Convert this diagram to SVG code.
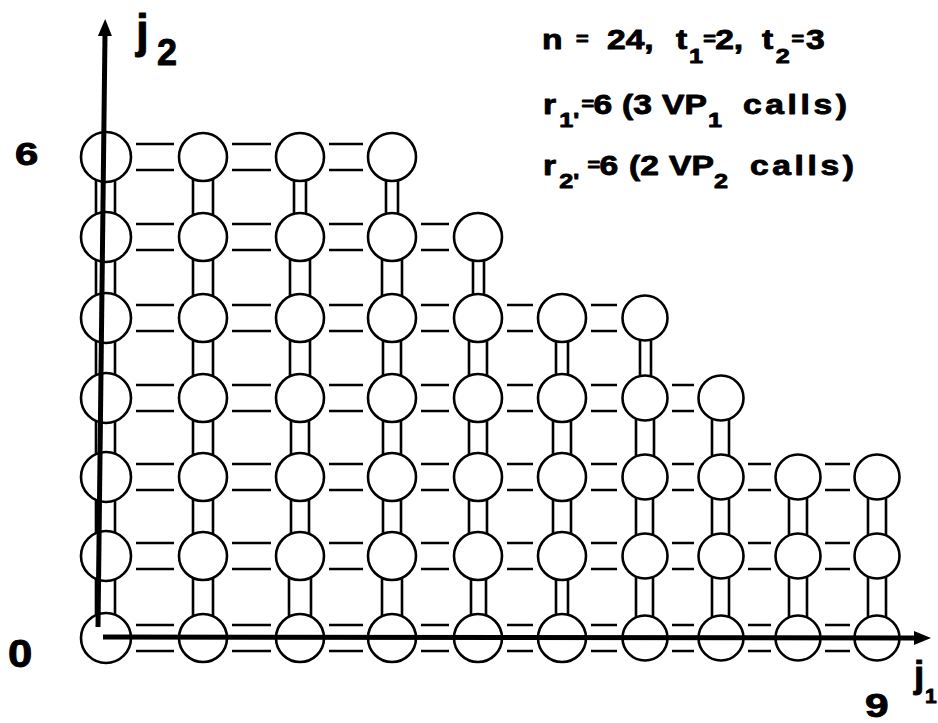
<svg xmlns="http://www.w3.org/2000/svg" width="938" height="723" viewBox="0 0 938 723">
<style>
.n{fill:#fff;stroke:#000;stroke-width:2.6}
.c{fill:none;stroke:#000;stroke-width:2.6}
.ax{fill:none;stroke:#000;stroke-width:5}
.t{font-family:"Liberation Sans",Arial,sans-serif;font-weight:bold;fill:#000;stroke:#000;stroke-width:0.9;stroke-linejoin:round}
.sub{font-size:21px}
.eq{font-size:18px}
</style>
<defs>
<marker id="ah" markerUnits="userSpaceOnUse" markerWidth="18" markerHeight="14" refX="2" refY="7" orient="auto">
<path d="M0,0 L17,7 L0,14 Z" fill="#000"/>
</marker>
</defs>
<rect width="938" height="723" fill="#fff"/>

<g id="connectors">
<path class="c" d="M136 144H174M136 170H174"/>
<path class="c" d="M232 144H271M232 170H271"/>
<path class="c" d="M329 144H363M329 170H363"/>
<path class="c" d="M136 224H174M136 250H174"/>
<path class="c" d="M232 224H271M232 250H271"/>
<path class="c" d="M329 224H363M329 250H363"/>
<path class="c" d="M421 224H449M421 250H449"/>
<path class="c" d="M136 305H174M136 331H174"/>
<path class="c" d="M232 305H271M232 331H271"/>
<path class="c" d="M329 305H363M329 331H363"/>
<path class="c" d="M421 305H449M421 331H449"/>
<path class="c" d="M507 305H533M507 331H533"/>
<path class="c" d="M591 305H617M591 331H617"/>
<path class="c" d="M136 385H174M136 411H174"/>
<path class="c" d="M232 385H271M232 411H271"/>
<path class="c" d="M329 385H363M329 411H363"/>
<path class="c" d="M421 385H449M421 411H449"/>
<path class="c" d="M507 385H533M507 411H533"/>
<path class="c" d="M591 385H617M591 411H617"/>
<path class="c" d="M672 385H694M672 411H694"/>
<path class="c" d="M136 464H174M136 490H174"/>
<path class="c" d="M232 464H271M232 490H271"/>
<path class="c" d="M329 464H363M329 490H363"/>
<path class="c" d="M421 464H449M421 490H449"/>
<path class="c" d="M507 464H533M507 490H533"/>
<path class="c" d="M591 464H617M591 490H617"/>
<path class="c" d="M672 464H694M672 490H694"/>
<path class="c" d="M748 464H771M748 490H771"/>
<path class="c" d="M825 464H850M825 490H850"/>
<path class="c" d="M136 543H174M136 569H174"/>
<path class="c" d="M232 543H271M232 569H271"/>
<path class="c" d="M329 543H363M329 569H363"/>
<path class="c" d="M421 543H449M421 569H449"/>
<path class="c" d="M507 543H533M507 569H533"/>
<path class="c" d="M591 543H617M591 569H617"/>
<path class="c" d="M672 543H694M672 569H694"/>
<path class="c" d="M748 543H771M748 569H771"/>
<path class="c" d="M825 543H850M825 569H850"/>
<path class="c" d="M136 625H174M136 651H174"/>
<path class="c" d="M232 625H271M232 651H271"/>
<path class="c" d="M329 625H363M329 651H363"/>
<path class="c" d="M421 625H449M421 651H449"/>
<path class="c" d="M507 625H533M507 651H533"/>
<path class="c" d="M591 625H617M591 651H617"/>
<path class="c" d="M672 625H694M672 651H694"/>
<path class="c" d="M748 625H771M748 651H771"/>
<path class="c" d="M825 625H850M825 651H850"/>
<path class="c" d="M96 179V215M115 179V215"/>
<path class="c" d="M96 259V296M115 259V296"/>
<path class="c" d="M96 340V376M115 340V376"/>
<path class="c" d="M96 420V455M115 420V455"/>
<path class="c" d="M96 499V534M115 499V534"/>
<path class="c" d="M96 578V616M115 578V616"/>
<path class="c" d="M193 178V216M213 178V216"/>
<path class="c" d="M193 258V297M213 258V297"/>
<path class="c" d="M193 339V377M213 339V377"/>
<path class="c" d="M193 419V456M213 419V456"/>
<path class="c" d="M193 498V535M213 498V535"/>
<path class="c" d="M193 577V617M213 577V617"/>
<path class="c" d="M294 179V215M306 179V215"/>
<path class="c" d="M290 258V297M310 258V297"/>
<path class="c" d="M290 339V377M310 339V377"/>
<path class="c" d="M291 419V456M309 419V456"/>
<path class="c" d="M291 498V535M309 498V535"/>
<path class="c" d="M289 577V617M311 577V617"/>
<path class="c" d="M386 179V215M398 179V215"/>
<path class="c" d="M382 258V297M402 258V297"/>
<path class="c" d="M383 339V377M401 339V377"/>
<path class="c" d="M383 419V456M401 419V456"/>
<path class="c" d="M383 498V535M401 498V535"/>
<path class="c" d="M382 577V617M402 577V617"/>
<path class="c" d="M473 259V296M484 259V296"/>
<path class="c" d="M469 339V377M487 339V377"/>
<path class="c" d="M469 419V456M487 419V456"/>
<path class="c" d="M469 498V535M487 498V535"/>
<path class="c" d="M471 577V617M486 577V617"/>
<path class="c" d="M556 340V376M568 340V376"/>
<path class="c" d="M553 419V456M571 419V456"/>
<path class="c" d="M553 498V535M571 498V535"/>
<path class="c" d="M556 578V616M568 578V616"/>
<path class="c" d="M640 339V377M651 339V377"/>
<path class="c" d="M636 418V457M654 418V457"/>
<path class="c" d="M636 497V536M653 497V536"/>
<path class="c" d="M636 576V618M653 576V618"/>
<path class="c" d="M712 418V457M729 418V457"/>
<path class="c" d="M712 497V536M729 497V536"/>
<path class="c" d="M712 576V618M729 576V618"/>
<path class="c" d="M789 497V536M807 497V536"/>
<path class="c" d="M789 576V618M807 576V618"/>
<path class="c" d="M868 497V536M886 497V536"/>
<path class="c" d="M868 576V618M886 576V618"/>
</g>

<g id="nodes">
<g id="n0-6"><circle class="n" cx="106" cy="157" r="25"/></g>
<g id="n1-6"><circle class="n" cx="203" cy="157" r="24"/></g>
<g id="n2-6"><circle class="n" cx="300" cy="157" r="24"/></g>
<g id="n3-6"><circle class="n" cx="392" cy="157" r="24"/></g>
<g id="n0-5"><circle class="n" cx="106" cy="237" r="25"/></g>
<g id="n1-5"><circle class="n" cx="203" cy="237" r="24"/></g>
<g id="n2-5"><circle class="n" cx="300" cy="237" r="24"/></g>
<g id="n3-5"><circle class="n" cx="392" cy="237" r="24"/></g>
<g id="n4-5"><circle class="n" cx="478" cy="237" r="24"/></g>
<g id="n0-4"><circle class="n" cx="106" cy="318" r="25"/></g>
<g id="n1-4"><circle class="n" cx="203" cy="318" r="24"/></g>
<g id="n2-4"><circle class="n" cx="300" cy="318" r="24"/></g>
<g id="n3-4"><circle class="n" cx="392" cy="318" r="24"/></g>
<g id="n4-4"><circle class="n" cx="478" cy="318" r="24"/></g>
<g id="n5-4"><circle class="n" cx="562" cy="318" r="24"/></g>
<g id="n6-4"><circle class="n" cx="645" cy="318" r="22.5"/></g>
<g id="n0-3"><circle class="n" cx="106" cy="398" r="25"/></g>
<g id="n1-3"><circle class="n" cx="203" cy="398" r="24"/></g>
<g id="n2-3"><circle class="n" cx="300" cy="398" r="24"/></g>
<g id="n3-3"><circle class="n" cx="392" cy="398" r="24"/></g>
<g id="n4-3"><circle class="n" cx="478" cy="398" r="24"/></g>
<g id="n5-3"><circle class="n" cx="562" cy="398" r="24"/></g>
<g id="n6-3"><circle class="n" cx="645" cy="398" r="22.5"/></g>
<g id="n7-3"><circle class="n" cx="721" cy="398" r="22.5"/></g>
<g id="n0-2"><circle class="n" cx="106" cy="477" r="25"/></g>
<g id="n1-2"><circle class="n" cx="203" cy="477" r="24"/></g>
<g id="n2-2"><circle class="n" cx="300" cy="477" r="24"/></g>
<g id="n3-2"><circle class="n" cx="392" cy="477" r="24"/></g>
<g id="n4-2"><circle class="n" cx="478" cy="477" r="24"/></g>
<g id="n5-2"><circle class="n" cx="562" cy="477" r="24"/></g>
<g id="n6-2"><circle class="n" cx="645" cy="477" r="22.5"/></g>
<g id="n7-2"><circle class="n" cx="721" cy="477" r="22.5"/></g>
<g id="n8-2"><circle class="n" cx="798" cy="477" r="22.5"/></g>
<g id="n9-2"><circle class="n" cx="877" cy="477" r="22.5"/></g>
<g id="n0-1"><circle class="n" cx="106" cy="556" r="25"/></g>
<g id="n1-1"><circle class="n" cx="203" cy="556" r="24"/></g>
<g id="n2-1"><circle class="n" cx="300" cy="556" r="24"/></g>
<g id="n3-1"><circle class="n" cx="392" cy="556" r="24"/></g>
<g id="n4-1"><circle class="n" cx="478" cy="556" r="24"/></g>
<g id="n5-1"><circle class="n" cx="562" cy="556" r="24"/></g>
<g id="n6-1"><circle class="n" cx="645" cy="556" r="22.5"/></g>
<g id="n7-1"><circle class="n" cx="721" cy="556" r="22.5"/></g>
<g id="n8-1"><circle class="n" cx="798" cy="556" r="22.5"/></g>
<g id="n9-1"><circle class="n" cx="877" cy="556" r="22.5"/></g>
<g id="n0-0"><circle class="n" cx="106" cy="638" r="25"/></g>
<g id="n1-0"><circle class="n" cx="203" cy="638" r="24"/></g>
<g id="n2-0"><circle class="n" cx="300" cy="638" r="24"/></g>
<g id="n3-0"><circle class="n" cx="392" cy="638" r="24"/></g>
<g id="n4-0"><circle class="n" cx="478" cy="638" r="24"/></g>
<g id="n5-0"><circle class="n" cx="562" cy="638" r="24"/></g>
<g id="n6-0"><circle class="n" cx="645" cy="638" r="22.5"/></g>
<g id="n7-0"><circle class="n" cx="721" cy="638" r="22.5"/></g>
<g id="n8-0"><circle class="n" cx="798" cy="638" r="22.5"/></g>
<g id="n9-0"><circle class="n" cx="877" cy="638" r="22.5"/></g>
</g>

<g id="axes">
<path class="ax" d="M98 627L105 34" marker-end="url(#ah)"/>
<path class="ax" d="M103 637L916 638" marker-end="url(#ah)"/>
<text class="t" x="136" y="47" font-size="46">j<tspan x="157" y="65" font-size="36">2</tspan></text>
<text class="t" x="914" y="687" font-size="37">j<tspan x="925" y="703" font-size="21">1</tspan></text>
<text class="t" font-size="31" transform="translate(15,165) scale(1.35,1)">6</text>
<text class="t" font-size="38" transform="translate(8,667) scale(1.15,1)">0</text>
<text class="t" font-size="34" transform="translate(865,717) scale(1.25,1)">9</text>
</g>

<g id="legend" transform="scale(1.2,1)">
<text class="t" font-size="28" y="49"><tspan x="451.7">n </tspan><tspan class="eq" x="480" y="45">= </tspan><tspan x="505.8" y="49">24, </tspan><tspan x="563.3">t</tspan><tspan class="sub" x="574.2" y="63">1</tspan><tspan class="eq" x="586" y="45">=</tspan><tspan x="596" y="49">2, </tspan><tspan x="635">t</tspan><tspan class="sub" x="646.5" y="63">2</tspan><tspan class="eq" x="659.5" y="45">=</tspan><tspan x="671.7" y="49">3</tspan></text>
<text class="t" font-size="28" y="114"><tspan x="452.5">r</tspan><tspan class="sub" x="466" y="127">1'</tspan><tspan class="eq" x="484.5" y="110">=</tspan><tspan x="494.5" y="114">6 </tspan><tspan x="518.3">(3 </tspan><tspan x="551.7">VP</tspan><tspan class="sub" x="590" y="127">1 </tspan><tspan x="619.2" y="114" letter-spacing="3">calls)</tspan></text>
<text class="t" font-size="28" y="175"><tspan x="452.5">r</tspan><tspan class="sub" x="466" y="188">2'</tspan><tspan class="eq" x="489.5" y="171">=</tspan><tspan x="499.5" y="175">6 </tspan><tspan x="524.2">(2 </tspan><tspan x="557.5">VP</tspan><tspan class="sub" x="595" y="188">2 </tspan><tspan x="625" y="175" letter-spacing="3">calls)</tspan></text>
</g>
</svg>
